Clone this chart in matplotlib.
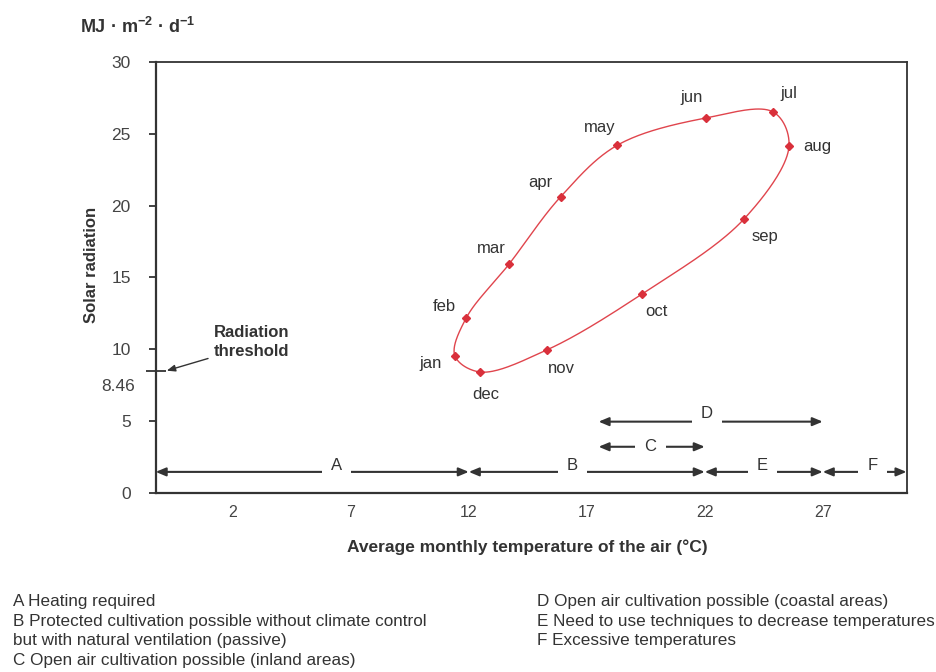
import numpy as np
import matplotlib.pyplot as plt

plt.rcParams['font.family'] = ['Liberation Sans', 'DejaVu Sans']
plt.rcParams['mathtext.fontset'] = 'custom'
plt.rcParams['mathtext.rm'] = 'Liberation Sans'
plt.rcParams['mathtext.bf'] = 'Liberation Sans:bold'

# monthly climate data
months = ['jan', 'feb', 'mar', 'apr', 'may', 'jun', 'jul', 'aug', 'sep', 'oct', 'nov', 'dec']
temperature = [11.41, 11.88, 13.70, 15.89, 18.30, 22.07, 24.91, 25.57, 23.66, 19.32, 15.30, 12.47]
radiation = [9.54, 12.14, 15.91, 20.61, 24.21, 26.11, 26.51, 24.14, 19.06, 13.82, 9.94, 8.41]

threshold = 8.46
x_ticks = [2, 7, 12, 17, 22, 27]
y_ticks = [0, 5, 10, 15, 20, 25, 30]
xmin, xmax = -1.27, 30.55

# temperature zones
zone_names = ['A', 'B', 'C', 'D', 'E', 'F']
zone_start = [xmin, 12, 17.5, 17.5, 22, 27]
zone_end = [12, 22, 22, 27, 27, xmax]
zone_text = ['A Heating required',
             'B Protected cultivation possible without climate control\nbut with natural ventilation (passive)',
             'C Open air cultivation possible (inland areas)',
             'D Open air cultivation possible (coastal areas)',
             'E Need to use techniques to decrease temperatures',
             'F Excessive temperatures']

# layout only
zone_row = [1.45, 1.45, 3.2, 4.95, 1.45, 1.45]
zone_label_x = [6.4, 16.4, 19.7, 22.1, 24.45, 29.1]
label_offsets = [(-24, -8), (-22, 12), (-18, 16), (-20, 14), (-18, 18), (-15, 20),
                 (15, 19), (28, 0), (21, -17), (15, -17), (15, -18), (6, -23)]

dark = '#333333'
red = '#d9303b'


def closed_spline(x, y, n=40, alpha=0.5, sx=23.6, sy=14.36):
    # centripetal catmull-rom through the points, closed loop
    P = np.column_stack([np.asarray(x) * sx, np.asarray(y) * sy])
    m = len(P)
    out = []
    for i in range(m):
        p0, p1, p2, p3 = P[(i - 1) % m], P[i], P[(i + 1) % m], P[(i + 2) % m]
        t0 = 0.0
        t1 = t0 + np.linalg.norm(p1 - p0) ** alpha
        t2 = t1 + np.linalg.norm(p2 - p1) ** alpha
        t3 = t2 + np.linalg.norm(p3 - p2) ** alpha
        t = np.linspace(t1, t2, n)[:, None]
        a1 = (t1 - t) / (t1 - t0) * p0 + (t - t0) / (t1 - t0) * p1
        a2 = (t2 - t) / (t2 - t1) * p1 + (t - t1) / (t2 - t1) * p2
        a3 = (t3 - t) / (t3 - t2) * p2 + (t - t2) / (t3 - t2) * p3
        b1 = (t2 - t) / (t2 - t0) * a1 + (t - t0) / (t2 - t0) * a2
        b2 = (t3 - t) / (t3 - t1) * a2 + (t - t1) / (t3 - t1) * a3
        c = (t2 - t) / (t2 - t1) * b1 + (t - t1) / (t2 - t1) * b2
        out.append(c)
    out = np.vstack(out)
    return out[:, 0] / sx, out[:, 1] / sy


fig = plt.figure(figsize=(9.36, 6.72), dpi=100)
ax = fig.add_axes([0.1663, 0.2668, 0.8022, 0.6409])

cx, cy = closed_spline(temperature, radiation)
ax.plot(cx, cy, color='#e0454d', lw=1.0)
ax.plot(temperature, radiation, ls='none', marker='D', ms=4.5, color=red)
for m, xv, yv, off in zip(months, temperature, radiation, label_offsets):
    ax.annotate(m, (xv, yv), xytext=off, textcoords='offset pixels',
                ha='center', va='center', fontsize=12, color=dark)

# zone arrows
for name, s, e, yr, lx in zip(zone_names, zone_start, zone_end, zone_row, zone_label_x):
    ax.annotate('', xy=(e, yr), xytext=(s, yr),
                arrowprops=dict(arrowstyle='<|-|>,head_length=0.6,head_width=0.25',
                                color=dark, lw=1.5, shrinkA=0, shrinkB=0))
    if name == 'C':
        va, ty = 'center', yr + 0.05
    elif name == 'D':
        va, ty = 'bottom', yr + 0.05
    else:
        va, ty = 'bottom', yr - 0.1
    ax.text(lx, ty, name, ha='center', va=va, fontsize=12, color=dark,
            bbox=dict(boxstyle='square,pad=0.55', fc='white', ec='none'))

# radiation threshold
ax.set_yticks([threshold], minor=True)
ax.tick_params(axis='y', which='minor', direction='inout', length=14, width=1.3,
               color=dark, labelleft=False)
ax.annotate('8.46', (0, threshold), xycoords=('axes fraction', 'data'),
            xytext=(-21, -15), textcoords='offset pixels', ha='right', va='center',
            fontsize=12.5, color='#444444')
ax.annotate('', xy=(-0.8, 8.5), xytext=(0.95, 9.35),
            arrowprops=dict(arrowstyle='-|>,head_length=0.5,head_width=0.2',
                            color=dark, lw=1.0, shrinkA=0, shrinkB=0))
ax.text(1.2, 10.5, 'Radiation\nthreshold', ha='left', va='center', fontsize=12,
        fontweight='bold', color=dark, linespacing=1.35)

ax.set_xlim(xmin, xmax)
ax.set_ylim(0, 30)
ax.set_xticks(x_ticks)
ax.set_yticks(y_ticks)
ax.tick_params(axis='x', length=0, pad=9, labelsize=11.5, labelcolor='#444444')
ax.tick_params(axis='y', which='major', direction='out', length=5, width=1.3, color=dark,
               pad=13, labelsize=12.5, labelcolor='#444444')
for side in ['left', 'bottom']:
    ax.spines[side].set_linewidth(1.6)
    ax.spines[side].set_color(dark)
for side in ['top', 'right']:
    ax.spines[side].set_linewidth(1.3)
    ax.spines[side].set_color(dark)

fig.text(80 / 936, 1 - 27 / 672, r'MJ · m$^{\mathbf{-2}}$ · d$^{\mathbf{-1}}$',
         ha='left', va='center', fontsize=13, fontweight='bold', color=dark)
fig.text(92 / 936, 1 - 265 / 672, 'Solar radiation', rotation=90, ha='center',
         va='center', fontsize=12, fontweight='bold', color=dark)
fig.text(527 / 936, 1 - 547 / 672, 'Average monthly temperature of the air (°C)',
         ha='center', va='center', fontsize=12.5, fontweight='bold', color=dark)

# legend text below the chart
left_col = zone_text[:3]
right_col = zone_text[3:]
fig.text(13 / 936, 1 - 594 / 672, '\n'.join(left_col), ha='left', va='top',
         fontsize=12.3, color=dark, linespacing=1.38)
fig.text(537 / 936, 1 - 594 / 672, '\n'.join(right_col), ha='left', va='top',
         fontsize=12.3, color=dark, linespacing=1.38)

fig.savefig('out.png', dpi=100)
